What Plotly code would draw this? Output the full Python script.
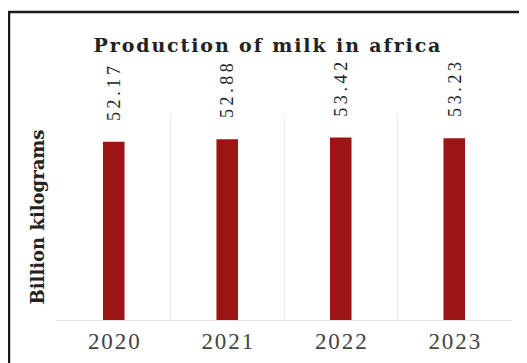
import plotly.graph_objects as go

years = ["2020", "2021", "2022", "2023"]
values = [52.17, 52.88, 53.42, 53.23]
value_labels = ["52.17", "52.88", "53.42", "53.23"]
title_text = "Production of milk in africa"
y_title = "Billion kilograms"

OFF = 8  # default page margin of the html body
W, H = 527 - OFF, 363 - OFF
L, R, T, B = 57 - OFF, 16, 115 - OFF, 43
pw, ph = W - L - R, H - T - B
HS = "\u200a"  # hair space for letter spacing
TS = "\u2009"  # thin space


def spaced(s, sep=HS):
    return sep.join(list(s))


def px_x(x):
    return (x - OFF - L) / pw


def px_y(y):
    return (H - B - (y - OFF)) / ph


fig = go.Figure()
fig.add_trace(go.Bar(
    x=years, y=values,
    marker=dict(color="#9c1414", line=dict(width=0)),
    width=0.19,
    hoverinfo="skip",
))

for i, (v, lab) in enumerate(zip(values, value_labels)):
    fig.add_annotation(
        x=i, y=v, xref="x", yref="y",
        text=spaced(lab, TS), textangle=-90, showarrow=False,
        yanchor="bottom", xanchor="center", yshift=19,
        font=dict(family="Liberation Serif", size=18, color="#222222"),
    )

fig.add_annotation(
    x=px_x(37), y=0.5, xref="paper", yref="paper",
    text=f"<b>{y_title}</b>", textangle=-90, showarrow=False,
    xanchor="center", yanchor="middle",
    font=dict(family="DejaVu Serif", size=18, color="#222222"),
)

fig.add_shape(
    type="rect", xref="paper", yref="paper",
    x0=px_x(9), x1=px_x(545), y0=px_y(385), y1=px_y(12),
    line=dict(color="#1a1a1a", width=2.5), fillcolor="rgba(0,0,0,0)",
    layer="above",
)

fig.update_layout(
    width=W, height=H,
    margin=dict(l=L, r=R, t=T, b=B, autoexpand=False),
    paper_bgcolor="white", plot_bgcolor="white",
    showlegend=False,
    title=dict(
        text=f"<b>{spaced(title_text)}</b>", x=(267 - OFF) / W, xanchor="center",
        y=1 - (45 - OFF) / H, yanchor="middle", yref="container",
        font=dict(family="DejaVu Serif", size=19, color="#222222"),
    ),
    xaxis=dict(
        type="category", tickson="boundaries", showgrid=True,
        range=[-0.5, len(years) - 0.5],
        tickvals=years, ticktext=[spaced(y) for y in years],
        gridcolor="#ebebf2", gridwidth=1,
        showline=True, linecolor="#e2e2ea", linewidth=1,
        ticks="", ticklen=0, tickangle=0,
        tickfont=dict(family="Liberation Serif", size=23, color="#444444"),
        zeroline=False,
    ),
    yaxis=dict(
        range=[0, 60], showgrid=False, showticklabels=False,
        zeroline=False, showline=False, ticks="",
    ),
)

fig.write_html("out.html")
